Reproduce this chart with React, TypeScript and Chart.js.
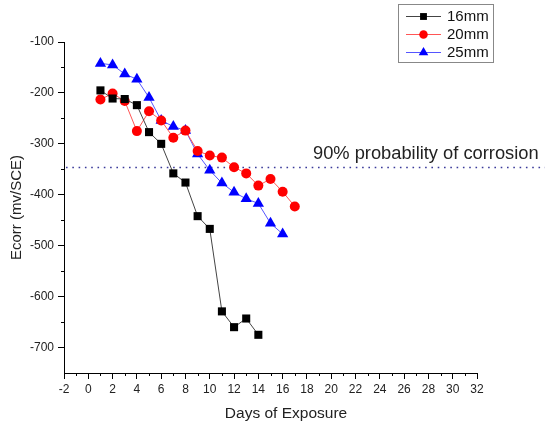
import React, { useEffect, useRef } from "react";
import { Chart, registerables } from "chart.js";
import { drawPoint } from "chart.js/helpers";

Chart.register(...registerables);

const days16 = [1, 2, 3, 4, 5, 6, 7, 8, 9, 10, 11, 12, 13, 14];
const ecorr16 = [-195, -211, -212, -224, -277, -300, -358, -376, -442, -467, -629, -660, -643, -675];

const days20 = [1, 2, 3, 4, 5, 6, 7, 8, 9, 10, 11, 12, 13, 14, 15, 16, 17];
const ecorr20 = [-213, -201, -216, -275, -236, -254, -288, -274, -314, -323, -327, -346, -358, -382, -369, -394, -423];

const days25 = [1, 2, 3, 4, 5, 6, 7, 8, 9, 10, 11, 12, 13, 14, 15, 16];
const ecorr25 = [-142, -145, -163, -173, -209, -254, -266, -274, -320, -352, -377, -395, -408, -417, -456, -477];

const seriesNames = ["16mm", "20mm", "25mm"];
const yTickValues = [-100, -200, -300, -400, -500, -600, -700];
const yMinorValues = [-150, -250, -350, -450, -550, -650];
const xMinorValues = [-1, 1, 3, 5, 7, 9, 11, 13, 15, 17, 19, 21, 23, 25, 27, 29, 31];
const thresholdValue = -345;
const thresholdLabel = "90% probability of corrosion";
const xTitle = "Days of Exposure";
const yTitle = "Ecorr (mv/SCE)";

const FONT = "Arial, 'Liberation Sans', sans-serif";

const styles = [
  { line: "#444444", fill: "#000000", shape: "rect", radius: 5.7 },
  { line: "#ff5555", fill: "#ff0000", shape: "circle", radius: 5 },
  { line: "#5555ff", fill: "#0000ff", shape: "triangle", radius: 6.5 },
];

const toPts = (xs: number[], ys: number[]) => xs.map((x, i) => ({ x, y: ys[i] }));

const minorTicksPlugin = {
  id: "minorTicks",
  afterDraw(chart: any) {
    const ctx = chart.ctx;
    const xs = chart.scales.x;
    const ys = chart.scales.y;
    const area = chart.chartArea;
    ctx.save();
    ctx.strokeStyle = "#000";
    ctx.lineWidth = 1;
    ctx.beginPath();
    xMinorValues.forEach((v) => {
      const px = Math.round(xs.getPixelForValue(v)) + 0.5;
      ctx.moveTo(px, area.bottom);
      ctx.lineTo(px, area.bottom + 3);
    });
    yMinorValues.forEach((v) => {
      const py = Math.round(ys.getPixelForValue(v)) + 0.5;
      ctx.moveTo(area.left, py);
      ctx.lineTo(area.left - 3, py);
    });
    ctx.stroke();
    ctx.fillStyle = "#222";
    ctx.font = `15.5px ${FONT}`;
    ctx.textAlign = "center";
    ctx.textBaseline = "middle";
    ctx.fillText(xTitle, 286, 414);
    ctx.restore();
  },
};

const thresholdPlugin = {
  id: "threshold",
  beforeDatasetsDraw(chart: any) {
    const ctx = chart.ctx;
    const ys = chart.scales.y;
    const area = chart.chartArea;
    const py = Math.round(ys.getPixelForValue(thresholdValue)) + 0.5;
    ctx.save();
    ctx.strokeStyle = "#3a3a9a";
    ctx.lineWidth = 1.6;
    ctx.setLineDash([1.6, 4.7]);
    ctx.beginPath();
    ctx.moveTo(area.left + 2, py);
    ctx.lineTo(chart.width - 10, py);
    ctx.stroke();
    ctx.setLineDash([]);
    ctx.fillStyle = "#222";
    ctx.font = `18.3px ${FONT}`;
    ctx.textAlign = "left";
    ctx.textBaseline = "middle";
    ctx.fillText(thresholdLabel, 313, py - 14);
    ctx.restore();
  },
};

const legendPlugin = {
  id: "boxLegend",
  afterDraw(chart: any) {
    const ctx = chart.ctx;
    ctx.save();
    ctx.fillStyle = "#fff";
    ctx.fillRect(398, 4, 95, 58);
    ctx.strokeStyle = "#888";
    ctx.lineWidth = 1;
    ctx.strokeRect(398.5, 4.5, 95, 58);
    const rows = [16, 34, 52];
    seriesNames.forEach((name, i) => {
      const st = styles[i];
      const y = rows[i];
      ctx.strokeStyle = st.line;
      ctx.lineWidth = 1;
      ctx.beginPath();
      ctx.moveTo(406, y + 0.5);
      ctx.lineTo(441, y + 0.5);
      ctx.stroke();
      ctx.fillStyle = st.fill;
      ctx.strokeStyle = st.fill;
      drawPoint(ctx, { pointStyle: st.shape, radius: st.radius * 0.85, rotation: 0, borderWidth: 0 } as any, 423.5, y + 0.5);
      ctx.fillStyle = "#111";
      ctx.font = `15px ${FONT}`;
      ctx.textAlign = "left";
      ctx.textBaseline = "middle";
      ctx.fillText(name, 447, y + 1);
    });
    ctx.restore();
  },
};

export default function App() {
  const ref = useRef<HTMLCanvasElement | null>(null);

  useEffect(() => {
    if (!ref.current) return;
    const datasets = [
      toPts(days16, ecorr16),
      toPts(days20, ecorr20),
      toPts(days25, ecorr25),
    ].map((data, i) => ({
      label: seriesNames[i],
      data,
      borderColor: styles[i].line,
      borderWidth: 1,
      backgroundColor: styles[i].fill,
      pointBackgroundColor: styles[i].fill,
      pointBorderColor: styles[i].fill,
      pointBorderWidth: 0,
      pointStyle: styles[i].shape,
      pointRadius: styles[i].radius,
      showLine: true,
      tension: 0,
    }));

    const chart = new Chart(ref.current, {
      type: "scatter",
      data: { datasets },
      plugins: [thresholdPlugin, minorTicksPlugin, legendPlugin],
      options: {
        animation: false,
        responsive: false,
        maintainAspectRatio: false,
        layout: { padding: { top: 42, right: 78, left: 0, bottom: 0 } },
        plugins: { legend: { display: false }, tooltip: { enabled: false } },
        scales: {
          x: {
            type: "linear",
            min: -2,
            max: 32,
            afterFit: (s: any) => {
              s.height = 54;
            },
            ticks: {
              stepSize: 2,
              color: "#222",
              font: { family: FONT, size: 12 },
              padding: 3,
              maxRotation: 0,
              autoSkip: false,
            },
            grid: { drawOnChartArea: false, drawTicks: true, tickLength: 6, color: "#000" },
            border: { display: true, color: "#000", width: 1 },
            title: { display: false },
          },
          y: {
            type: "linear",
            min: -750,
            max: -100,
            afterBuildTicks: (s: any) => {
              s.ticks = yTickValues.map((v) => ({ value: v }));
            },
            afterFit: (s: any) => {
              s.width = 64;
            },
            ticks: {
              color: "#222",
              font: { family: FONT, size: 12 },
              padding: 4,
            },
            grid: { drawOnChartArea: false, drawTicks: true, tickLength: 6, color: "#000" },
            border: { display: true, color: "#000", width: 1 },
            title: {
              display: true,
              text: yTitle,
              color: "#222",
              font: { family: FONT, size: 15 },
              padding: { top: 8, bottom: 0 },
            },
          },
        },
      },
    } as any);
    return () => chart.destroy();
  }, []);

  return (
    <div style={{ position: "fixed", left: 0, top: 0, width: 555, height: 427, background: "#fff" }}>
      <canvas ref={ref} width={555} height={427} style={{ width: 555, height: 427 }} />
    </div>
  );
}
